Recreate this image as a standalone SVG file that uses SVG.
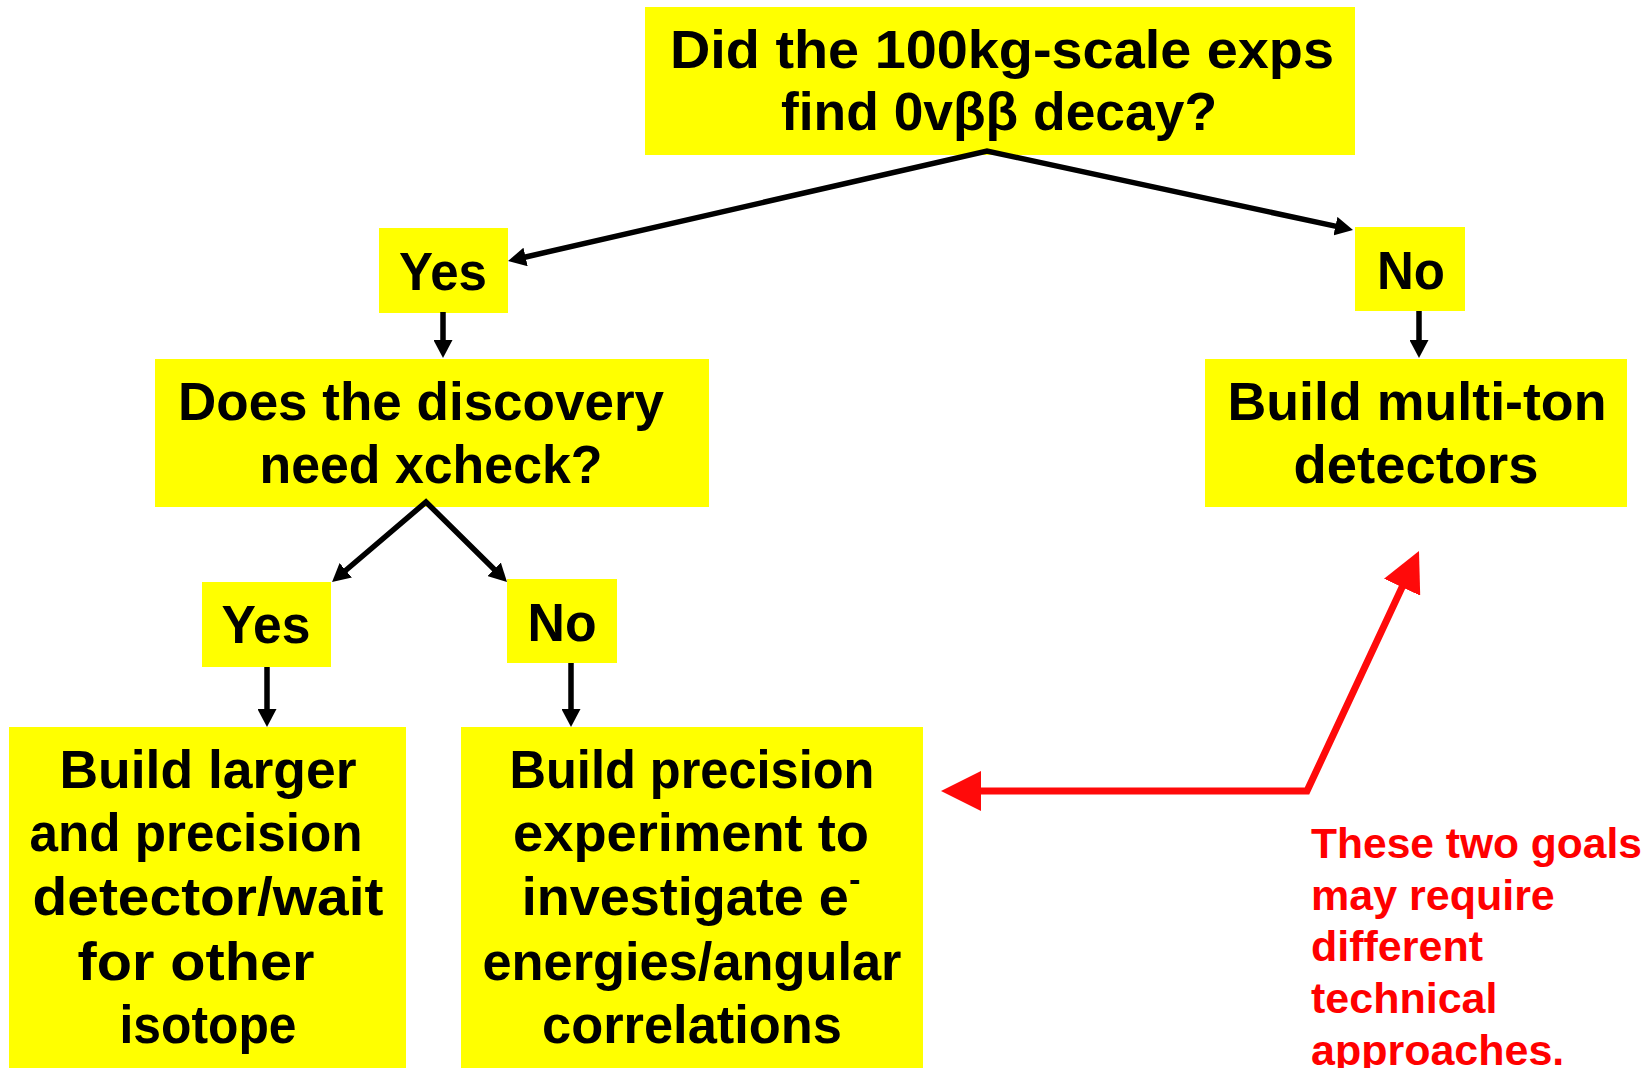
<svg xmlns="http://www.w3.org/2000/svg" width="1651" height="1068" viewBox="0 0 1651 1068">
<defs>
<style>
.box{fill:#FFFF00;}
.t{font-family:"Liberation Sans",Arial,sans-serif;font-weight:bold;font-size:54px;fill:#000;text-anchor:middle;}
.r{font-family:"Liberation Sans",Arial,sans-serif;font-weight:bold;font-size:43px;fill:#FF0000;}
.k{fill:none;stroke:#000;stroke-width:5.5;stroke-linejoin:miter;}
.red{fill:none;stroke:#FF0A0A;stroke-width:7;}
</style>
<marker id="ak" viewBox="0 0 18 19" refX="1" refY="9.5" markerWidth="18" markerHeight="19" markerUnits="userSpaceOnUse" orient="auto-start-reverse"><path d="M0,0 L18,9.5 L0,19 z" fill="#000"/></marker>
<marker id="ar" viewBox="0 0 40 40" refX="1" refY="20" markerWidth="40" markerHeight="40" markerUnits="userSpaceOnUse" orient="auto-start-reverse"><path d="M0,0 L40,20 L0,40 z" fill="#FF0A0A"/></marker>
</defs>
<rect width="1651" height="1068" fill="#FFFFFF"/>
<g id="q1"><rect class="box" x="645" y="7" width="710" height="148"/>
<text class="t" x="1002" y="68" textLength="664" lengthAdjust="spacingAndGlyphs">Did the 100kg-scale exps</text>
<text class="t" x="999" y="130" textLength="436" lengthAdjust="spacingAndGlyphs">find 0vββ decay?</text></g>
<g id="yes1"><rect class="box" x="379" y="228" width="129" height="85"/>
<text class="t" x="443" y="290" textLength="88" lengthAdjust="spacingAndGlyphs">Yes</text></g>
<g id="no1"><rect class="box" x="1355" y="227" width="110" height="84"/>
<text class="t" x="1411" y="289" textLength="68" lengthAdjust="spacingAndGlyphs">No</text></g>
<g id="q2"><rect class="box" x="155" y="359" width="554" height="148"/>
<text class="t" x="421" y="420" textLength="486" lengthAdjust="spacingAndGlyphs">Does the discovery</text>
<text class="t" x="431" y="483" textLength="343" lengthAdjust="spacingAndGlyphs">need xcheck?</text></g>
<g id="multi"><rect class="box" x="1205" y="359" width="422" height="148"/>
<text class="t" x="1417" y="420" textLength="379" lengthAdjust="spacingAndGlyphs">Build multi-ton</text>
<text class="t" x="1416" y="483" textLength="245" lengthAdjust="spacingAndGlyphs">detectors</text></g>
<g id="yes2"><rect class="box" x="202" y="582" width="129" height="85"/>
<text class="t" x="266" y="643" textLength="89" lengthAdjust="spacingAndGlyphs">Yes</text></g>
<g id="no2"><rect class="box" x="507" y="579" width="110" height="84"/>
<text class="t" x="562" y="641" textLength="69" lengthAdjust="spacingAndGlyphs">No</text></g>
<g id="larger"><rect class="box" x="9" y="727" width="397" height="341"/>
<text class="t" x="208" y="788" textLength="297" lengthAdjust="spacingAndGlyphs">Build larger</text>
<text class="t" x="196" y="851" textLength="333" lengthAdjust="spacingAndGlyphs">and precision</text>
<text class="t" x="208" y="915" textLength="351" lengthAdjust="spacingAndGlyphs">detector/wait</text>
<text class="t" x="196" y="980" textLength="237" lengthAdjust="spacingAndGlyphs">for other</text>
<text class="t" x="208" y="1043" textLength="177" lengthAdjust="spacingAndGlyphs">isotope</text></g>
<g id="precision"><rect class="box" x="461" y="727" width="462" height="341"/>
<text class="t" x="692" y="788" textLength="365" lengthAdjust="spacingAndGlyphs">Build precision</text>
<text class="t" x="691" y="851" textLength="356" lengthAdjust="spacingAndGlyphs">experiment to</text>
<text class="t" x="691" y="915">investigate e<tspan font-size="34" dy="-24">-</tspan></text>
<text class="t" x="692" y="980" textLength="419" lengthAdjust="spacingAndGlyphs">energies/angular</text>
<text class="t" x="692" y="1043" textLength="300" lengthAdjust="spacingAndGlyphs">correlations</text></g>
<g id="note">
<text class="r" x="1311" y="858" textLength="331" lengthAdjust="spacingAndGlyphs">These two goals</text>
<text class="r" x="1311" y="910">may require</text>
<text class="r" x="1311" y="961">different</text>
<text class="r" x="1311" y="1013">technical</text>
<text class="r" x="1311" y="1065">approaches.</text></g>
<g id="connectors">
<path class="k" d="M524.6,257.2 L987,151 L1336.4,226.4" marker-start="url(#ak)" marker-end="url(#ak)"/>
<path class="k" d="M443,312 L443,341" marker-end="url(#ak)"/>
<path class="k" d="M1419,311 L1419,341" marker-end="url(#ak)"/>
<path class="k" d="M345,571 L426,502 L494.9,570" marker-start="url(#ak)" marker-end="url(#ak)"/>
<path class="k" d="M267,667 L267,710" marker-end="url(#ak)"/>
<path class="k" d="M571,663 L571,710" marker-end="url(#ak)"/>
<path class="red" d="M1402.5,586.3 L1307,791 L980,791" marker-start="url(#ar)" marker-end="url(#ar)"/>
</g>
</svg>
